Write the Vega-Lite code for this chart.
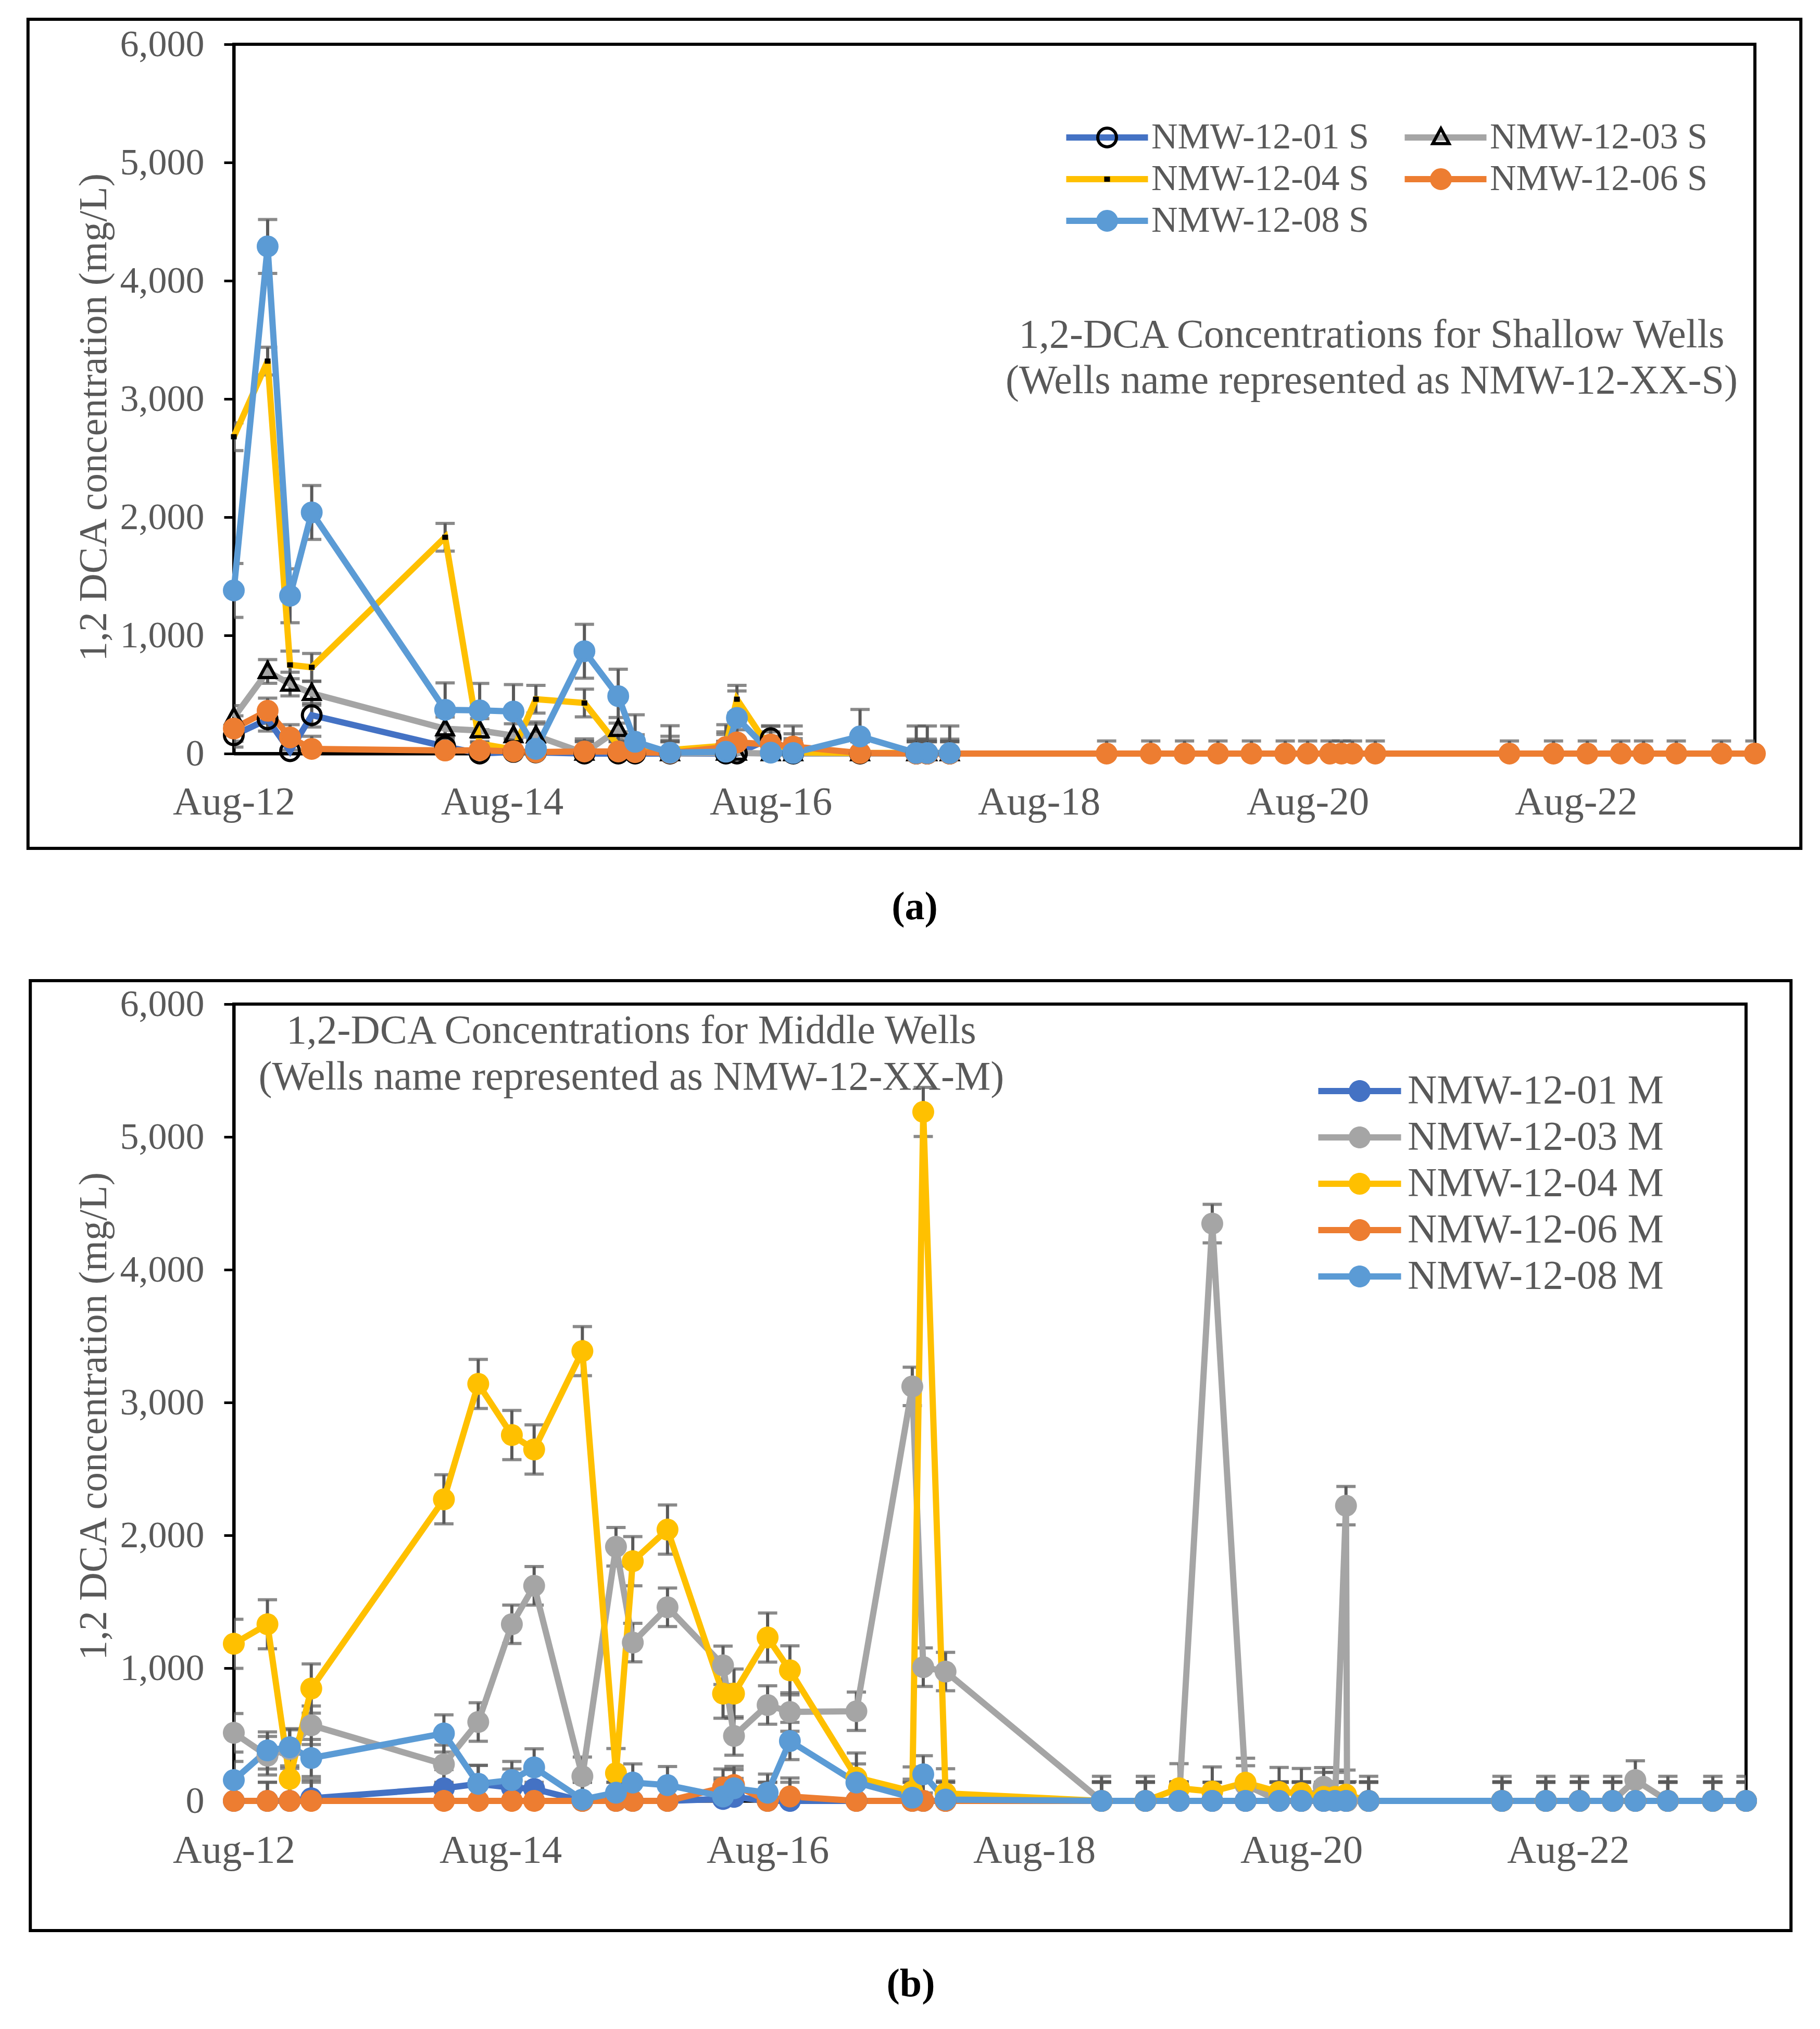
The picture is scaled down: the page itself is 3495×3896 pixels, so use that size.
{
  "$schema": "https://vega.github.io/schema/vega-lite/v6.json",
  "padding": {"left": 47, "top": 31, "right": 10, "bottom": 120},
  "background": "#ffffff",
  "config": {
    "font": "Liberation Serif",
    "view": {"stroke": "#000000", "strokeWidth": 6},
    "axis": {
      "grid": false,
      "labelColor": "#595959",
      "labelFont": "Liberation Serif",
      "titleColor": "#595959",
      "titleFont": "Liberation Serif",
      "titleFontWeight": "normal",
      "domainColor": "#000000",
      "domainWidth": 6,
      "tickColor": "#000000",
      "labelFlush": false,
      "labelOverlap": false,
      "labelLimit": 0
    },
    "legend": {
      "labelFont": "Liberation Serif",
      "labelColor": "#595959",
      "labelLimit": 0,
      "padding": 0,
      "title": null
    }
  },
  "datasets": {
    "shallow": [
      {"d":"2012-08-01","s":"NMW-12-01 S","v":155,"e":100},
      {"d":"2012-11-01","s":"NMW-12-01 S","v":290,"e":100},
      {"d":"2013-01-01","s":"NMW-12-01 S","v":20,"e":100},
      {"d":"2013-03-01","s":"NMW-12-01 S","v":325,"e":100},
      {"d":"2014-02-27","s":"NMW-12-01 S","v":60,"e":100},
      {"d":"2014-06-01","s":"NMW-12-01 S","v":0,"e":100},
      {"d":"2014-09-01","s":"NMW-12-01 S","v":14,"e":100},
      {"d":"2014-11-01","s":"NMW-12-01 S","v":10,"e":100},
      {"d":"2015-03-13","s":"NMW-12-01 S","v":0,"e":100},
      {"d":"2015-06-13","s":"NMW-12-01 S","v":0,"e":100},
      {"d":"2015-07-29","s":"NMW-12-01 S","v":0,"e":100},
      {"d":"2015-11-01","s":"NMW-12-01 S","v":0,"e":100},
      {"d":"2016-04-01","s":"NMW-12-01 S","v":0,"e":100},
      {"d":"2016-05-01","s":"NMW-12-01 S","v":0,"e":100},
      {"d":"2016-08-01","s":"NMW-12-01 S","v":130,"e":100},
      {"d":"2016-10-01","s":"NMW-12-01 S","v":0,"e":100},
      {"d":"2017-04-01","s":"NMW-12-01 S","v":0,"e":100},
      {"d":"2017-09-01","s":"NMW-12-01 S","v":0,"e":100},
      {"d":"2017-10-01","s":"NMW-12-01 S","v":0,"e":100},
      {"d":"2017-12-01","s":"NMW-12-01 S","v":0,"e":100},

      {"d":"2012-08-01","s":"NMW-12-03 S","v":305,"e":100},
      {"d":"2012-11-01","s":"NMW-12-03 S","v":695,"e":100},
      {"d":"2013-01-01","s":"NMW-12-03 S","v":588,"e":100},
      {"d":"2013-03-01","s":"NMW-12-03 S","v":510,"e":100},
      {"d":"2014-02-27","s":"NMW-12-03 S","v":210,"e":100},
      {"d":"2014-06-01","s":"NMW-12-03 S","v":195,"e":100},
      {"d":"2014-09-01","s":"NMW-12-03 S","v":152,"e":100},
      {"d":"2014-11-01","s":"NMW-12-03 S","v":150,"e":100},
      {"d":"2015-03-13","s":"NMW-12-03 S","v":5,"e":100},
      {"d":"2015-06-13","s":"NMW-12-03 S","v":205,"e":100},
      {"d":"2015-07-29","s":"NMW-12-03 S","v":60,"e":100},
      {"d":"2015-11-01","s":"NMW-12-03 S","v":0,"e":100},
      {"d":"2016-04-01","s":"NMW-12-03 S","v":5,"e":100},
      {"d":"2016-05-01","s":"NMW-12-03 S","v":5,"e":100},
      {"d":"2016-08-01","s":"NMW-12-03 S","v":0,"e":100},
      {"d":"2016-10-01","s":"NMW-12-03 S","v":0,"e":100},
      {"d":"2017-04-01","s":"NMW-12-03 S","v":0,"e":100},
      {"d":"2017-09-01","s":"NMW-12-03 S","v":0,"e":100},
      {"d":"2017-10-01","s":"NMW-12-03 S","v":0,"e":100},
      {"d":"2017-12-01","s":"NMW-12-03 S","v":0,"e":100},

      {"d":"2012-08-01","s":"NMW-12-04 S","v":2680,"e":117},
      {"d":"2012-11-01","s":"NMW-12-04 S","v":3320,"e":117},
      {"d":"2013-01-01","s":"NMW-12-04 S","v":750,"e":117},
      {"d":"2013-03-01","s":"NMW-12-04 S","v":730,"e":117},
      {"d":"2014-02-27","s":"NMW-12-04 S","v":1830,"e":117},
      {"d":"2014-06-01","s":"NMW-12-04 S","v":84,"e":117},
      {"d":"2014-09-01","s":"NMW-12-04 S","v":35,"e":117},
      {"d":"2014-11-01","s":"NMW-12-04 S","v":460,"e":117},
      {"d":"2015-03-13","s":"NMW-12-04 S","v":428,"e":117},
      {"d":"2015-06-13","s":"NMW-12-04 S","v":67,"e":117},
      {"d":"2015-07-29","s":"NMW-12-04 S","v":10,"e":117},
      {"d":"2015-11-01","s":"NMW-12-04 S","v":30,"e":117},
      {"d":"2016-04-01","s":"NMW-12-04 S","v":67,"e":117},
      {"d":"2016-05-01","s":"NMW-12-04 S","v":460,"e":117},
      {"d":"2016-08-01","s":"NMW-12-04 S","v":30,"e":117},
      {"d":"2016-10-01","s":"NMW-12-04 S","v":10,"e":117},
      {"d":"2017-04-01","s":"NMW-12-04 S","v":5,"e":117},
      {"d":"2017-09-01","s":"NMW-12-04 S","v":5,"e":117},
      {"d":"2017-10-01","s":"NMW-12-04 S","v":5,"e":117},
      {"d":"2017-12-01","s":"NMW-12-04 S","v":5,"e":117},

      {"d":"2012-08-01","s":"NMW-12-06 S","v":212,"e":107},
      {"d":"2012-11-01","s":"NMW-12-06 S","v":362,"e":107},
      {"d":"2013-01-01","s":"NMW-12-06 S","v":137,"e":107},
      {"d":"2013-03-01","s":"NMW-12-06 S","v":40,"e":107},
      {"d":"2014-02-27","s":"NMW-12-06 S","v":26,"e":107},
      {"d":"2014-06-01","s":"NMW-12-06 S","v":28,"e":107},
      {"d":"2014-09-01","s":"NMW-12-06 S","v":19,"e":107},
      {"d":"2014-11-01","s":"NMW-12-06 S","v":13,"e":107},
      {"d":"2015-03-13","s":"NMW-12-06 S","v":18,"e":107},
      {"d":"2015-06-13","s":"NMW-12-06 S","v":18,"e":107},
      {"d":"2015-07-29","s":"NMW-12-06 S","v":12,"e":107},
      {"d":"2015-11-01","s":"NMW-12-06 S","v":5,"e":107},
      {"d":"2016-04-01","s":"NMW-12-06 S","v":55,"e":107},
      {"d":"2016-05-01","s":"NMW-12-06 S","v":95,"e":107},
      {"d":"2016-08-01","s":"NMW-12-06 S","v":77,"e":107},
      {"d":"2016-10-01","s":"NMW-12-06 S","v":60,"e":107},
      {"d":"2017-04-01","s":"NMW-12-06 S","v":5,"e":107},
      {"d":"2017-09-01","s":"NMW-12-06 S","v":0,"e":107},
      {"d":"2017-10-01","s":"NMW-12-06 S","v":0,"e":107},
      {"d":"2017-12-01","s":"NMW-12-06 S","v":0,"e":107},
      {"d":"2019-02-01","s":"NMW-12-06 S","v":0,"e":107},
      {"d":"2019-06-01","s":"NMW-12-06 S","v":0,"e":107},
      {"d":"2019-09-01","s":"NMW-12-06 S","v":0,"e":107},
      {"d":"2019-12-01","s":"NMW-12-06 S","v":0,"e":107},
      {"d":"2020-03-01","s":"NMW-12-06 S","v":0,"e":107},
      {"d":"2020-06-01","s":"NMW-12-06 S","v":0,"e":107},
      {"d":"2020-08-01","s":"NMW-12-06 S","v":0,"e":107},
      {"d":"2020-10-01","s":"NMW-12-06 S","v":0,"e":107},
      {"d":"2020-11-01","s":"NMW-12-06 S","v":0,"e":107},
      {"d":"2020-12-01","s":"NMW-12-06 S","v":0,"e":107},
      {"d":"2021-02-01","s":"NMW-12-06 S","v":0,"e":107},
      {"d":"2022-02-01","s":"NMW-12-06 S","v":0,"e":107},
      {"d":"2022-06-01","s":"NMW-12-06 S","v":0,"e":107},
      {"d":"2022-09-01","s":"NMW-12-06 S","v":0,"e":107},
      {"d":"2022-12-01","s":"NMW-12-06 S","v":0,"e":107},
      {"d":"2023-02-01","s":"NMW-12-06 S","v":0,"e":107},
      {"d":"2023-05-01","s":"NMW-12-06 S","v":0,"e":107},
      {"d":"2023-09-01","s":"NMW-12-06 S","v":0,"e":107},
      {"d":"2023-12-01","s":"NMW-12-06 S","v":0,"e":107},

      {"d":"2012-08-01","s":"NMW-12-08 S","v":1380,"e":228},
      {"d":"2012-11-01","s":"NMW-12-08 S","v":4290,"e":228},
      {"d":"2013-01-01","s":"NMW-12-08 S","v":1335,"e":228},
      {"d":"2013-03-01","s":"NMW-12-08 S","v":2040,"e":228},
      {"d":"2014-02-27","s":"NMW-12-08 S","v":370,"e":228},
      {"d":"2014-06-01","s":"NMW-12-08 S","v":366,"e":228},
      {"d":"2014-09-01","s":"NMW-12-08 S","v":356,"e":228},
      {"d":"2014-11-01","s":"NMW-12-08 S","v":40,"e":228},
      {"d":"2015-03-13","s":"NMW-12-08 S","v":866,"e":228},
      {"d":"2015-06-13","s":"NMW-12-08 S","v":486,"e":228},
      {"d":"2015-07-29","s":"NMW-12-08 S","v":100,"e":228},
      {"d":"2015-11-01","s":"NMW-12-08 S","v":8,"e":228},
      {"d":"2016-04-01","s":"NMW-12-08 S","v":16,"e":228},
      {"d":"2016-05-01","s":"NMW-12-08 S","v":302,"e":228},
      {"d":"2016-08-01","s":"NMW-12-08 S","v":8,"e":228},
      {"d":"2016-10-01","s":"NMW-12-08 S","v":5,"e":228},
      {"d":"2017-04-01","s":"NMW-12-08 S","v":145,"e":228},
      {"d":"2017-09-01","s":"NMW-12-08 S","v":5,"e":228},
      {"d":"2017-10-01","s":"NMW-12-08 S","v":5,"e":228},
      {"d":"2017-12-01","s":"NMW-12-08 S","v":5,"e":228}
    ],
    "middle": [
      {"d":"2012-08-01","s":"NMW-12-01 M","v":0,"e":140},
      {"d":"2012-11-01","s":"NMW-12-01 M","v":0,"e":140},
      {"d":"2013-01-01","s":"NMW-12-01 M","v":0,"e":140},
      {"d":"2013-03-01","s":"NMW-12-01 M","v":20,"e":140},
      {"d":"2014-02-27","s":"NMW-12-01 M","v":95,"e":140},
      {"d":"2014-06-01","s":"NMW-12-01 M","v":128,"e":140},
      {"d":"2014-09-01","s":"NMW-12-01 M","v":100,"e":140},
      {"d":"2014-11-01","s":"NMW-12-01 M","v":90,"e":140},
      {"d":"2015-03-13","s":"NMW-12-01 M","v":0,"e":140},
      {"d":"2015-06-13","s":"NMW-12-01 M","v":0,"e":140},
      {"d":"2015-07-29","s":"NMW-12-01 M","v":0,"e":140},
      {"d":"2015-11-01","s":"NMW-12-01 M","v":0,"e":140},
      {"d":"2016-04-01","s":"NMW-12-01 M","v":15,"e":140},
      {"d":"2016-05-01","s":"NMW-12-01 M","v":30,"e":140},
      {"d":"2016-08-01","s":"NMW-12-01 M","v":0,"e":140},
      {"d":"2016-10-01","s":"NMW-12-01 M","v":0,"e":140},
      {"d":"2017-04-01","s":"NMW-12-01 M","v":0,"e":140},
      {"d":"2017-09-01","s":"NMW-12-01 M","v":0,"e":140},
      {"d":"2017-10-01","s":"NMW-12-01 M","v":0,"e":140},
      {"d":"2017-12-01","s":"NMW-12-01 M","v":0,"e":140},
      {"d":"2019-02-01","s":"NMW-12-01 M","v":0,"e":140},
      {"d":"2019-06-01","s":"NMW-12-01 M","v":0,"e":140},
      {"d":"2019-09-01","s":"NMW-12-01 M","v":0,"e":140},
      {"d":"2019-12-01","s":"NMW-12-01 M","v":0,"e":140},
      {"d":"2020-03-01","s":"NMW-12-01 M","v":0,"e":140},
      {"d":"2020-06-01","s":"NMW-12-01 M","v":0,"e":140},
      {"d":"2020-08-01","s":"NMW-12-01 M","v":0,"e":140},
      {"d":"2020-10-01","s":"NMW-12-01 M","v":0,"e":140},
      {"d":"2020-11-01","s":"NMW-12-01 M","v":0,"e":140},
      {"d":"2020-12-01","s":"NMW-12-01 M","v":0,"e":140},
      {"d":"2021-02-01","s":"NMW-12-01 M","v":0,"e":140},
      {"d":"2022-02-01","s":"NMW-12-01 M","v":0,"e":140},
      {"d":"2022-06-01","s":"NMW-12-01 M","v":0,"e":140},
      {"d":"2022-09-01","s":"NMW-12-01 M","v":0,"e":140},
      {"d":"2022-12-01","s":"NMW-12-01 M","v":0,"e":140},
      {"d":"2023-02-01","s":"NMW-12-01 M","v":0,"e":140},
      {"d":"2023-05-01","s":"NMW-12-01 M","v":0,"e":140},
      {"d":"2023-09-01","s":"NMW-12-01 M","v":0,"e":140},
      {"d":"2023-12-01","s":"NMW-12-01 M","v":0,"e":140},

      {"d":"2012-08-01","s":"NMW-12-03 M","v":513,"e":145},
      {"d":"2012-11-01","s":"NMW-12-03 M","v":340,"e":145},
      {"d":"2013-01-01","s":"NMW-12-03 M","v":390,"e":145},
      {"d":"2013-03-01","s":"NMW-12-03 M","v":570,"e":145},
      {"d":"2014-02-27","s":"NMW-12-03 M","v":276,"e":145},
      {"d":"2014-06-01","s":"NMW-12-03 M","v":594,"e":145},
      {"d":"2014-09-01","s":"NMW-12-03 M","v":1330,"e":145},
      {"d":"2014-11-01","s":"NMW-12-03 M","v":1620,"e":145},
      {"d":"2015-03-13","s":"NMW-12-03 M","v":185,"e":145},
      {"d":"2015-06-13","s":"NMW-12-03 M","v":1914,"e":145},
      {"d":"2015-07-29","s":"NMW-12-03 M","v":1192,"e":145},
      {"d":"2015-11-01","s":"NMW-12-03 M","v":1458,"e":145},
      {"d":"2016-04-01","s":"NMW-12-03 M","v":1021,"e":145},
      {"d":"2016-05-01","s":"NMW-12-03 M","v":489,"e":145},
      {"d":"2016-08-01","s":"NMW-12-03 M","v":722,"e":145},
      {"d":"2016-10-01","s":"NMW-12-03 M","v":670,"e":145},
      {"d":"2017-04-01","s":"NMW-12-03 M","v":675,"e":145},
      {"d":"2017-09-01","s":"NMW-12-03 M","v":3121,"e":145},
      {"d":"2017-10-01","s":"NMW-12-03 M","v":1007,"e":145},
      {"d":"2017-12-01","s":"NMW-12-03 M","v":974,"e":145},
      {"d":"2019-02-01","s":"NMW-12-03 M","v":0,"e":145},
      {"d":"2019-06-01","s":"NMW-12-03 M","v":0,"e":145},
      {"d":"2019-09-01","s":"NMW-12-03 M","v":0,"e":145},
      {"d":"2019-12-01","s":"NMW-12-03 M","v":4347,"e":145},
      {"d":"2020-03-01","s":"NMW-12-03 M","v":120,"e":145},
      {"d":"2020-06-01","s":"NMW-12-03 M","v":0,"e":145},
      {"d":"2020-08-01","s":"NMW-12-03 M","v":0,"e":145},
      {"d":"2020-10-01","s":"NMW-12-03 M","v":106,"e":145},
      {"d":"2020-11-01","s":"NMW-12-03 M","v":0,"e":145},
      {"d":"2020-12-01","s":"NMW-12-03 M","v":2223,"e":145},
      {"d":"2020-12-04","s":"NMW-12-03 M","v":0,"e":145},
      {"d":"2021-02-01","s":"NMW-12-03 M","v":0,"e":145},
      {"d":"2022-02-01","s":"NMW-12-03 M","v":0,"e":145},
      {"d":"2022-06-01","s":"NMW-12-03 M","v":0,"e":145},
      {"d":"2022-09-01","s":"NMW-12-03 M","v":0,"e":145},
      {"d":"2022-12-01","s":"NMW-12-03 M","v":0,"e":145},
      {"d":"2023-02-01","s":"NMW-12-03 M","v":157,"e":145},
      {"d":"2023-05-01","s":"NMW-12-03 M","v":0,"e":145},
      {"d":"2023-09-01","s":"NMW-12-03 M","v":0,"e":145},
      {"d":"2023-12-01","s":"NMW-12-03 M","v":0,"e":145},

      {"d":"2012-08-01","s":"NMW-12-04 M","v":1183,"e":185},
      {"d":"2012-11-01","s":"NMW-12-04 M","v":1330,"e":185},
      {"d":"2013-01-01","s":"NMW-12-04 M","v":166,"e":185},
      {"d":"2013-03-01","s":"NMW-12-04 M","v":846,"e":185},
      {"d":"2014-02-27","s":"NMW-12-04 M","v":2271,"e":185},
      {"d":"2014-06-01","s":"NMW-12-04 M","v":3140,"e":185},
      {"d":"2014-09-01","s":"NMW-12-04 M","v":2755,"e":185},
      {"d":"2014-11-01","s":"NMW-12-04 M","v":2646,"e":185},
      {"d":"2015-03-13","s":"NMW-12-04 M","v":3387,"e":185},
      {"d":"2015-06-13","s":"NMW-12-04 M","v":209,"e":185},
      {"d":"2015-07-29","s":"NMW-12-04 M","v":1805,"e":185},
      {"d":"2015-11-01","s":"NMW-12-04 M","v":2043,"e":185},
      {"d":"2016-04-01","s":"NMW-12-04 M","v":808,"e":185},
      {"d":"2016-05-01","s":"NMW-12-04 M","v":808,"e":185},
      {"d":"2016-08-01","s":"NMW-12-04 M","v":1230,"e":185},
      {"d":"2016-10-01","s":"NMW-12-04 M","v":983,"e":185},
      {"d":"2017-04-01","s":"NMW-12-04 M","v":176,"e":185},
      {"d":"2017-09-01","s":"NMW-12-04 M","v":71,"e":185},
      {"d":"2017-10-01","s":"NMW-12-04 M","v":5188,"e":185},
      {"d":"2017-12-01","s":"NMW-12-04 M","v":57,"e":185},
      {"d":"2019-02-01","s":"NMW-12-04 M","v":0,"e":185},
      {"d":"2019-06-01","s":"NMW-12-04 M","v":0,"e":185},
      {"d":"2019-09-01","s":"NMW-12-04 M","v":95,"e":185},
      {"d":"2019-12-01","s":"NMW-12-04 M","v":71,"e":185},
      {"d":"2020-03-01","s":"NMW-12-04 M","v":137,"e":185},
      {"d":"2020-06-01","s":"NMW-12-04 M","v":67,"e":185},
      {"d":"2020-08-01","s":"NMW-12-04 M","v":59,"e":185},
      {"d":"2020-10-01","s":"NMW-12-04 M","v":30,"e":185},
      {"d":"2020-11-01","s":"NMW-12-04 M","v":30,"e":185},
      {"d":"2020-12-01","s":"NMW-12-04 M","v":47,"e":185},
      {"d":"2021-02-01","s":"NMW-12-04 M","v":0,"e":185},
      {"d":"2022-02-01","s":"NMW-12-04 M","v":0,"e":185},
      {"d":"2022-06-01","s":"NMW-12-04 M","v":0,"e":185},
      {"d":"2022-09-01","s":"NMW-12-04 M","v":0,"e":185},
      {"d":"2022-12-01","s":"NMW-12-04 M","v":0,"e":185},
      {"d":"2023-02-01","s":"NMW-12-04 M","v":0,"e":185},
      {"d":"2023-05-01","s":"NMW-12-04 M","v":0,"e":185},
      {"d":"2023-09-01","s":"NMW-12-04 M","v":0,"e":185},
      {"d":"2023-12-01","s":"NMW-12-04 M","v":0,"e":185},

      {"d":"2012-08-01","s":"NMW-12-06 M","v":0,"e":140},
      {"d":"2012-11-01","s":"NMW-12-06 M","v":0,"e":140},
      {"d":"2013-01-01","s":"NMW-12-06 M","v":0,"e":140},
      {"d":"2013-03-01","s":"NMW-12-06 M","v":0,"e":140},
      {"d":"2014-02-27","s":"NMW-12-06 M","v":0,"e":140},
      {"d":"2014-06-01","s":"NMW-12-06 M","v":0,"e":140},
      {"d":"2014-09-01","s":"NMW-12-06 M","v":0,"e":140},
      {"d":"2014-11-01","s":"NMW-12-06 M","v":0,"e":140},
      {"d":"2015-03-13","s":"NMW-12-06 M","v":0,"e":140},
      {"d":"2015-06-13","s":"NMW-12-06 M","v":0,"e":140},
      {"d":"2015-07-29","s":"NMW-12-06 M","v":0,"e":140},
      {"d":"2015-11-01","s":"NMW-12-06 M","v":0,"e":140},
      {"d":"2016-04-01","s":"NMW-12-06 M","v":100,"e":140},
      {"d":"2016-05-01","s":"NMW-12-06 M","v":120,"e":140},
      {"d":"2016-08-01","s":"NMW-12-06 M","v":0,"e":140},
      {"d":"2016-10-01","s":"NMW-12-06 M","v":33,"e":140},
      {"d":"2017-04-01","s":"NMW-12-06 M","v":0,"e":140},
      {"d":"2017-09-01","s":"NMW-12-06 M","v":0,"e":140},
      {"d":"2017-10-01","s":"NMW-12-06 M","v":0,"e":140},
      {"d":"2017-12-01","s":"NMW-12-06 M","v":0,"e":140},
      {"d":"2019-02-01","s":"NMW-12-06 M","v":0,"e":140},
      {"d":"2019-06-01","s":"NMW-12-06 M","v":0,"e":140},
      {"d":"2019-09-01","s":"NMW-12-06 M","v":0,"e":140},
      {"d":"2019-12-01","s":"NMW-12-06 M","v":0,"e":140},
      {"d":"2020-03-01","s":"NMW-12-06 M","v":0,"e":140},
      {"d":"2020-06-01","s":"NMW-12-06 M","v":0,"e":140},
      {"d":"2020-08-01","s":"NMW-12-06 M","v":0,"e":140},
      {"d":"2020-10-01","s":"NMW-12-06 M","v":0,"e":140},
      {"d":"2020-11-01","s":"NMW-12-06 M","v":0,"e":140},
      {"d":"2020-12-01","s":"NMW-12-06 M","v":0,"e":140},
      {"d":"2021-02-01","s":"NMW-12-06 M","v":0,"e":140},
      {"d":"2022-02-01","s":"NMW-12-06 M","v":0,"e":140},
      {"d":"2022-06-01","s":"NMW-12-06 M","v":0,"e":140},
      {"d":"2022-09-01","s":"NMW-12-06 M","v":0,"e":140},
      {"d":"2022-12-01","s":"NMW-12-06 M","v":0,"e":140},
      {"d":"2023-02-01","s":"NMW-12-06 M","v":0,"e":140},
      {"d":"2023-05-01","s":"NMW-12-06 M","v":0,"e":140},
      {"d":"2023-09-01","s":"NMW-12-06 M","v":0,"e":140},
      {"d":"2023-12-01","s":"NMW-12-06 M","v":0,"e":140},

      {"d":"2012-08-01","s":"NMW-12-08 M","v":157,"e":140},
      {"d":"2012-11-01","s":"NMW-12-08 M","v":380,"e":140},
      {"d":"2013-01-01","s":"NMW-12-08 M","v":404,"e":140},
      {"d":"2013-03-01","s":"NMW-12-08 M","v":323,"e":140},
      {"d":"2014-02-27","s":"NMW-12-08 M","v":508,"e":140},
      {"d":"2014-06-01","s":"NMW-12-08 M","v":128,"e":140},
      {"d":"2014-09-01","s":"NMW-12-08 M","v":157,"e":140},
      {"d":"2014-11-01","s":"NMW-12-08 M","v":252,"e":140},
      {"d":"2015-03-13","s":"NMW-12-08 M","v":10,"e":140},
      {"d":"2015-06-13","s":"NMW-12-08 M","v":62,"e":140},
      {"d":"2015-07-29","s":"NMW-12-08 M","v":138,"e":140},
      {"d":"2015-11-01","s":"NMW-12-08 M","v":119,"e":140},
      {"d":"2016-04-01","s":"NMW-12-08 M","v":33,"e":140},
      {"d":"2016-05-01","s":"NMW-12-08 M","v":95,"e":140},
      {"d":"2016-08-01","s":"NMW-12-08 M","v":62,"e":140},
      {"d":"2016-10-01","s":"NMW-12-08 M","v":451,"e":140},
      {"d":"2017-04-01","s":"NMW-12-08 M","v":138,"e":140},
      {"d":"2017-09-01","s":"NMW-12-08 M","v":24,"e":140},
      {"d":"2017-10-01","s":"NMW-12-08 M","v":200,"e":140},
      {"d":"2017-12-01","s":"NMW-12-08 M","v":10,"e":140},
      {"d":"2019-02-01","s":"NMW-12-08 M","v":0,"e":140},
      {"d":"2019-06-01","s":"NMW-12-08 M","v":0,"e":140},
      {"d":"2019-09-01","s":"NMW-12-08 M","v":0,"e":140},
      {"d":"2019-12-01","s":"NMW-12-08 M","v":0,"e":140},
      {"d":"2020-03-01","s":"NMW-12-08 M","v":0,"e":140},
      {"d":"2020-06-01","s":"NMW-12-08 M","v":0,"e":140},
      {"d":"2020-08-01","s":"NMW-12-08 M","v":0,"e":140},
      {"d":"2020-10-01","s":"NMW-12-08 M","v":0,"e":140},
      {"d":"2020-11-01","s":"NMW-12-08 M","v":0,"e":140},
      {"d":"2020-12-01","s":"NMW-12-08 M","v":0,"e":140},
      {"d":"2021-02-01","s":"NMW-12-08 M","v":0,"e":140},
      {"d":"2022-02-01","s":"NMW-12-08 M","v":0,"e":140},
      {"d":"2022-06-01","s":"NMW-12-08 M","v":0,"e":140},
      {"d":"2022-09-01","s":"NMW-12-08 M","v":0,"e":140},
      {"d":"2022-12-01","s":"NMW-12-08 M","v":0,"e":140},
      {"d":"2023-02-01","s":"NMW-12-08 M","v":0,"e":140},
      {"d":"2023-05-01","s":"NMW-12-08 M","v":0,"e":140},
      {"d":"2023-09-01","s":"NMW-12-08 M","v":0,"e":140},
      {"d":"2023-12-01","s":"NMW-12-08 M","v":0,"e":140}
    ]
  },
  "bounds": "flush",
  "spacing": 481,
  "resolve": {
    "scale": {"color": "independent", "fill": "independent", "stroke": "independent", "shape": "independent", "x": "independent", "y": "independent"},
    "legend": {"color": "independent", "fill": "independent", "stroke": "independent", "shape": "independent"}
  },
  "vconcat": [
    {
      "width": 2921,
      "height": 1362,
      "title": {"text": "(a)", "orient": "bottom", "anchor": "middle", "frame": "group", "dx": -153, "offset": 73, "baseline": "top", "font": "Liberation Serif", "fontSize": 76, "fontWeight": "bold", "color": "#000000"},
      "layer": [
        {
          "data": {"name": "shallow"},
          "mark": {"type": "errorbar", "color": "#595959", "clip": true, "thickness": 6, "ticks": {"size": 37, "thickness": 6}, "rule": {"strokeWidth": 6}},
          "encoding": {
            "x": {"field": "d", "type": "temporal", "title": null,
              "scale": {"type": "utc", "domain": [{"year": 2012, "month": 8, "date": 1, "utc": true}, {"year": 2023, "month": 12, "date": 1, "utc": true}]},
              "axis": {"format": "%b-%y", "ticks": false, "tickSize": 0, "labelFontSize": 77, "labelPadding": 55,
                "values": [{"year": 2012, "month": 8, "date": 1, "utc": true}, {"year": 2014, "month": 8, "date": 1, "utc": true}, {"year": 2016, "month": 8, "date": 1, "utc": true}, {"year": 2018, "month": 8, "date": 1, "utc": true}, {"year": 2020, "month": 8, "date": 1, "utc": true}, {"year": 2022, "month": 8, "date": 1, "utc": true}]}},
            "y": {"field": "v", "type": "quantitative", "title": "1,2 DCA concentration (mg/L)",
              "scale": {"domain": [0, 6000], "nice": false},
              "axis": {"values": [0, 1000, 2000, 3000, 4000, 5000, 6000], "format": ",.0f", "labelFontSize": 72, "labelPadding": 38, "tickSize": 19, "tickWidth": 5, "titleFontSize": 76, "titlePadding": 30, "titleY": 716}},
            "yError": {"field": "e"}
          }
        },
        {
          "data": {"name": "shallow"},
          "mark": {"type": "line", "strokeWidth": 12, "clip": false},
          "encoding": {
            "x": {"field": "d", "type": "temporal", "title": null},
            "y": {"field": "v", "type": "quantitative", "title": "1,2 DCA concentration (mg/L)"},
            "color": {"field": "s", "type": "nominal",
              "scale": {"domain": ["NMW-12-01 S", "NMW-12-03 S", "NMW-12-04 S", "NMW-12-06 S", "NMW-12-08 S"], "range": ["#4472C4", "#A5A5A5", "#FFC000", "#ED7D31", "#5B9BD5"]},
              "legend": {"orient": "none", "legendX": 1583, "legendY": 144, "direction": "horizontal", "columns": 2, "symbolType": "M-4,0H4", "symbolSize": 1541, "symbolOffset": 59, "symbolStrokeWidth": 12, "labelFontSize": 70, "labelOffset": 50, "columnPadding": 43, "rowPadding": 10}}
          }
        },
        {
          "data": {"name": "shallow"},
          "mark": {"type": "point", "size": 1541, "strokeWidth": 6, "opacity": 1, "clip": false},
          "encoding": {
            "x": {"field": "d", "type": "temporal", "title": null},
            "y": {"field": "v", "type": "quantitative", "title": "1,2 DCA concentration (mg/L)"},
            "shape": {"field": "s", "type": "nominal",
              "scale": {"range": [
                "M-4.153,0M4.153,0M0.916,0A0.916,0.916,0,1,1,-0.916,0A0.916,0.916,0,1,1,0.916,0Z",
                "M-4.153,0M4.153,0M0,-0.88L0.8,0.6L-0.8,0.6Z",
                "M-4.153,0M4.153,0M-0.13,-0.1H0.13V0.1H-0.13Z",
                "M-4.153,0M4.153,0M0.916,0A0.916,0.916,0,1,1,-0.916,0A0.916,0.916,0,1,1,0.916,0Z",
                "M-4.153,0M4.153,0M0.916,0A0.916,0.916,0,1,1,-0.916,0A0.916,0.916,0,1,1,0.916,0Z"]},
              "legend": {"orient": "none", "legendX": 1583, "legendY": 144, "direction": "horizontal", "columns": 2, "symbolSize": 1541, "symbolOffset": 59, "symbolStrokeWidth": 6, "labelFontSize": 70, "labelOffset": 50, "columnPadding": 43, "rowPadding": 10, "labelOpacity": 0}},
            "fill": {"field": "s", "type": "nominal",
              "scale": {"range": ["transparent", "transparent", "#000000", "#ED7D31", "#5B9BD5"]},
              "legend": {"orient": "none", "legendX": 1583, "legendY": 144, "direction": "horizontal", "columns": 2, "symbolSize": 1541, "symbolOffset": 59, "symbolStrokeWidth": 6, "labelFontSize": 70, "labelOffset": 50, "columnPadding": 43, "rowPadding": 10, "labelOpacity": 0}},
            "stroke": {"field": "s", "type": "nominal",
              "scale": {"range": ["#000000", "#000000", "#000000", "#ED7D31", "#5B9BD5"]},
              "legend": {"orient": "none", "legendX": 1583, "legendY": 144, "direction": "horizontal", "columns": 2, "symbolSize": 1541, "symbolOffset": 59, "symbolStrokeWidth": 6, "labelFontSize": 70, "labelOffset": 50, "columnPadding": 43, "rowPadding": 10, "labelOpacity": 0}}
          }
        },
        {
          "data": {"values": [{}]},
          "mark": {"type": "text", "font": "Liberation Serif", "fontSize": 78, "color": "#595959", "align": "center", "baseline": "middle"},
          "encoding": {
            "x": {"datum": {"year": 2021, "month": 1, "date": 22, "utc": true}, "type": "temporal"},
            "y": {"datum": 3537, "type": "quantitative"},
            "text": {"value": "1,2-DCA Concentrations for Shallow Wells"}
          }
        },
        {
          "data": {"values": [{}]},
          "mark": {"type": "text", "font": "Liberation Serif", "fontSize": 78, "color": "#595959", "align": "center", "baseline": "middle"},
          "encoding": {
            "x": {"datum": {"year": 2021, "month": 1, "date": 22, "utc": true}, "type": "temporal"},
            "y": {"datum": 3150, "type": "quantitative"},
            "text": {"value": "(Wells name represented as NMW-12-XX-S)"}
          }
        },
        {
          "data": {"values": [{}]},
          "mark": {"type": "rect", "filled": false, "stroke": "#000000", "strokeWidth": 6, "clip": false},
          "encoding": {
            "x": {"datum": {"year": 2011, "month": 1, "date": 19, "utc": true}, "type": "temporal"},
            "x2": {"datum": {"year": 2024, "month": 4, "date": 4, "utc": true}},
            "y": {"datum": 6211, "type": "quantitative"},
            "y2": {"datum": -802}
          }
        }
      ]
    },
    {
      "width": 2904,
      "height": 1530,
      "title": {"text": "(b)", "orient": "bottom", "anchor": "middle", "frame": "group", "dx": -152, "offset": 63, "baseline": "top", "font": "Liberation Serif", "fontSize": 76, "fontWeight": "bold", "color": "#000000"},
      "layer": [
        {
          "data": {"name": "middle"},
          "mark": {"type": "errorbar", "color": "#595959", "clip": true, "thickness": 6, "ticks": {"size": 37, "thickness": 6}, "rule": {"strokeWidth": 6}},
          "encoding": {
            "x": {"field": "d", "type": "temporal", "title": null,
              "scale": {"type": "utc", "domain": [{"year": 2012, "month": 8, "date": 1, "utc": true}, {"year": 2023, "month": 12, "date": 1, "utc": true}]},
              "axis": {"format": "%b-%y", "ticks": false, "tickSize": 0, "labelFontSize": 77, "labelPadding": 57,
                "values": [{"year": 2012, "month": 8, "date": 1, "utc": true}, {"year": 2014, "month": 8, "date": 1, "utc": true}, {"year": 2016, "month": 8, "date": 1, "utc": true}, {"year": 2018, "month": 8, "date": 1, "utc": true}, {"year": 2020, "month": 8, "date": 1, "utc": true}, {"year": 2022, "month": 8, "date": 1, "utc": true}]}},
            "y": {"field": "v", "type": "quantitative", "title": "1,2 DCA concentration (mg/L)",
              "scale": {"domain": [0, 6000], "nice": false},
              "axis": {"values": [0, 1000, 2000, 3000, 4000, 5000, 6000], "format": ",.0f", "labelFontSize": 72, "labelPadding": 38, "tickSize": 19, "tickWidth": 5, "titleFontSize": 76, "titlePadding": 30, "titleY": 791}},
            "yError": {"field": "e"}
          }
        },
        {
          "data": {"name": "middle"},
          "mark": {"type": "line", "strokeWidth": 12, "clip": false},
          "encoding": {
            "x": {"field": "d", "type": "temporal", "title": null},
            "y": {"field": "v", "type": "quantitative", "title": "1,2 DCA concentration (mg/L)"},
            "color": {"field": "s", "type": "nominal",
              "scale": {"domain": ["NMW-12-01 M", "NMW-12-03 M", "NMW-12-04 M", "NMW-12-06 M", "NMW-12-08 M"], "range": ["#4472C4", "#A5A5A5", "#FFC000", "#ED7D31", "#5B9BD5"]},
              "legend": {"orient": "none", "legendX": 2063, "legendY": 128, "direction": "vertical", "symbolType": "M-4,0H4", "symbolSize": 1580, "symbolOffset": 60, "symbolStrokeWidth": 12, "labelFontSize": 78, "labelOffset": 53, "rowPadding": 11}}
          }
        },
        {
          "data": {"name": "middle"},
          "mark": {"type": "point", "filled": true, "size": 1580, "strokeWidth": 0, "opacity": 1, "clip": false,
            "shape": "M-4,0M4,0M1.056,0A1.056,1.056,0,1,1,-1.056,0A1.056,1.056,0,1,1,1.056,0Z"},
          "encoding": {
            "x": {"field": "d", "type": "temporal", "title": null},
            "y": {"field": "v", "type": "quantitative", "title": "1,2 DCA concentration (mg/L)"},
            "fill": {"field": "s", "type": "nominal",
              "scale": {"range": ["#4472C4", "#A5A5A5", "#FFC000", "#ED7D31", "#5B9BD5"]},
              "legend": {"orient": "none", "legendX": 2063, "legendY": 128, "direction": "vertical", "symbolType": "M-4.3,0M4.3,0M1.056,0A1.056,1.056,0,1,1,-1.056,0A1.056,1.056,0,1,1,1.056,0Z", "symbolSize": 1580, "symbolOffset": 60, "symbolStrokeWidth": 0, "labelFontSize": 78, "labelOffset": 53, "rowPadding": 11, "labelOpacity": 0}}
          }
        },
        {
          "data": {"values": [{}]},
          "mark": {"type": "text", "font": "Liberation Serif", "fontSize": 78, "color": "#595959", "align": "center", "baseline": "middle"},
          "encoding": {
            "x": {"datum": {"year": 2015, "month": 7, "date": 25, "utc": true}, "type": "temporal"},
            "y": {"datum": 5796, "type": "quantitative"},
            "text": {"value": "1,2-DCA Concentrations for Middle Wells"}
          }
        },
        {
          "data": {"values": [{}]},
          "mark": {"type": "text", "font": "Liberation Serif", "fontSize": 78, "color": "#595959", "align": "center", "baseline": "middle"},
          "encoding": {
            "x": {"datum": {"year": 2015, "month": 7, "date": 25, "utc": true}, "type": "temporal"},
            "y": {"datum": 5447, "type": "quantitative"},
            "text": {"value": "(Wells name represented as NMW-12-XX-M)"}
          }
        },
        {
          "data": {"values": [{}]},
          "mark": {"type": "rect", "filled": false, "stroke": "#000000", "strokeWidth": 6, "clip": false},
          "encoding": {
            "x": {"datum": {"year": 2011, "month": 1, "date": 22, "utc": true}, "type": "temporal"},
            "x2": {"datum": {"year": 2024, "month": 4, "date": 2, "utc": true}},
            "y": {"datum": 6176, "type": "quantitative"},
            "y2": {"datum": -976}
          }
        }
      ]
    }
  ]
}
